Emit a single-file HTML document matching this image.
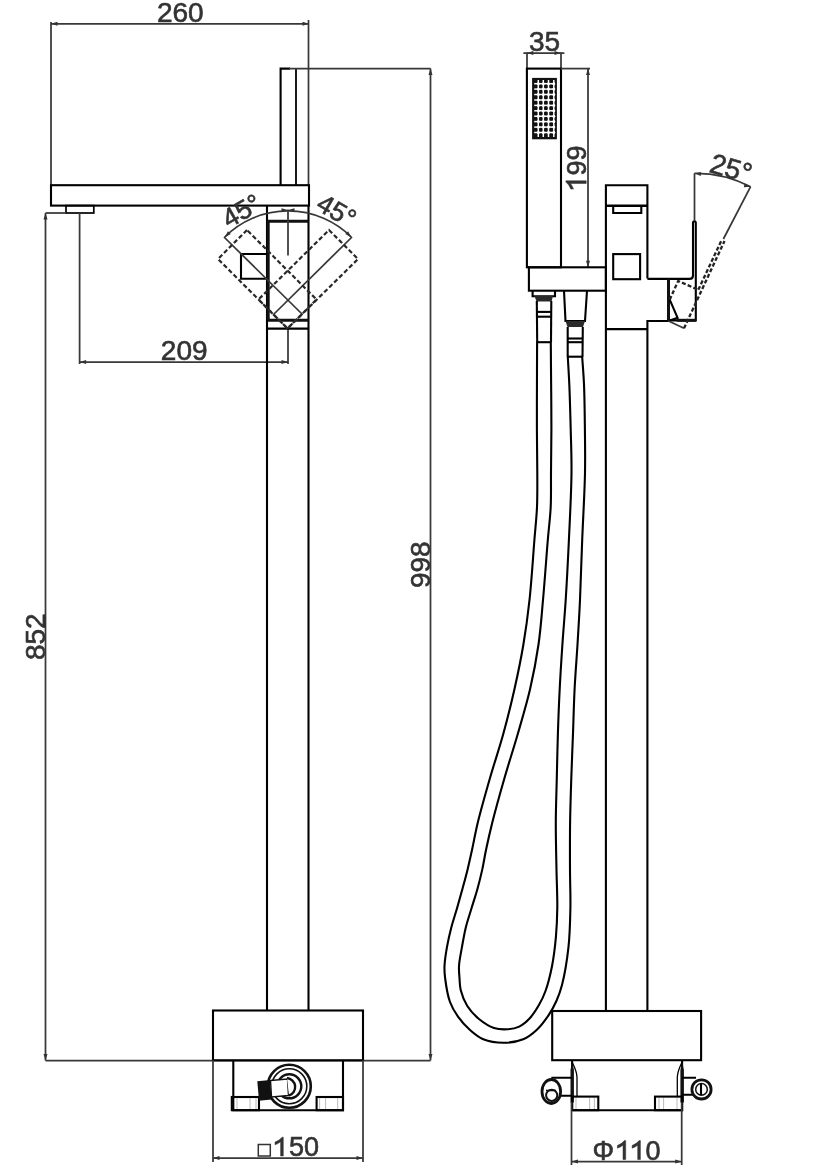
<!DOCTYPE html>
<html>
<head>
<meta charset="utf-8">
<style>
html,body{margin:0;padding:0;background:#fff;}
body{width:826px;height:1169px;overflow:hidden;}
svg{display:block;will-change:transform;}
text{font-family:"Liberation Sans",sans-serif;font-size:28px;fill:#333;stroke:#333;stroke-width:0.6;}
.o{stroke:#000;stroke-width:2.1;fill:none;}
.ot{stroke:#111;stroke-width:3;fill:none;}
.d{stroke:#383838;stroke-width:1.75;fill:none;}
.ds{stroke:#2a2a2a;stroke-width:2.2;fill:none;stroke-dasharray:4.5 2.5;}
.ar{fill:#333;stroke:none;}
.one{fill:#333;stroke:#333;stroke-width:0.5;}
.lg{stroke:#bbb;stroke-width:1;fill:none;}
</style>
</head>
<body>
<svg width="826" height="1169" viewBox="0 0 826 1169">
<rect x="0" y="0" width="826" height="1169" fill="#fff"/>

<!-- ================= LEFT VIEW ================= -->
<g id="left">
  <!-- 260 dimension -->
  <line class="d" x1="51" y1="23.8" x2="309" y2="23.8"/>
  <line class="d" x1="51" y1="22" x2="51" y2="185"/>
  <line class="d" x1="308.5" y1="20" x2="308.5" y2="185"/>
  <path class="ar" d="M51.00 23.80 L57.50 21.80 L57.50 25.80 Z"/>
  <path class="ar" d="M309.00 23.80 L302.50 25.80 L302.50 21.80 Z"/>
  <text x="180.3" y="22.4" text-anchor="middle">260</text>

  <!-- handle top -->
  <path class="o" d="M290 68.6 H280.6 V185"/><line class="o" style="stroke-width:1.8" x1="296" y1="68.6" x2="296" y2="185"/>
  <line class="d" x1="289" y1="68.6" x2="430.5" y2="68.6"/>

  <!-- spout -->
  <rect class="o" x="51" y="185.2" width="258" height="20.4"/>
  <!-- aerator -->
  <rect class="o" style="stroke-width:1.7" x="66" y="205.6" width="27.8" height="7.4"/>

  <!-- 852 dimension -->
  <line class="d" x1="45.5" y1="213" x2="66" y2="213"/>
  <line class="d" x1="45.5" y1="213" x2="45.5" y2="1060.5"/>
  <path class="ar" d="M45.50 213.00 L47.50 219.50 L43.50 219.50 Z"/>
  <path class="ar" d="M45.50 1060.50 L43.50 1054.00 L47.50 1054.00 Z"/>
  <line class="d" x1="45.5" y1="1060.5" x2="430.5" y2="1060.5"/>
  <text transform="translate(45,636.7) rotate(-90)" text-anchor="middle">852</text>

  <!-- 209 dimension -->
  <line class="d" x1="79.6" y1="213" x2="79.6" y2="364"/>
  <line class="d" x1="288" y1="328" x2="288" y2="364"/>
  <line class="d" x1="79.6" y1="362" x2="288" y2="362"/>
  <path class="ar" d="M79.60 362.00 L86.10 360.00 L86.10 364.00 Z"/>
  <path class="ar" d="M288.00 362.00 L281.50 364.00 L281.50 360.00 Z"/>
  <text x="184.2" y="360" text-anchor="middle">209</text>

  <!-- 998 dimension -->
  <line class="d" x1="430.5" y1="68.6" x2="430.5" y2="1060.5"/>
  <path class="ar" d="M430.50 68.60 L432.50 75.10 L428.50 75.10 Z"/>
  <path class="ar" d="M430.50 1060.50 L428.50 1054.00 L432.50 1054.00 Z"/>
  <text transform="translate(430,564.7) rotate(-90)" text-anchor="middle">998</text>

  <!-- column -->
  <line class="o" x1="267" y1="205.6" x2="267" y2="1010.5"/>
  <line class="o" x1="308.5" y1="205.6" x2="308.5" y2="1010.5"/>
  <line class="ot" x1="268" y1="221.3" x2="308.5" y2="221.3"/>
  <line class="ot" x1="268" y1="320.2" x2="308.5" y2="320.2"/>
  <line class="ot" x1="268.2" y1="221.3" x2="268.2" y2="320.2"/>
  <line class="o" x1="267" y1="328.6" x2="308.5" y2="328.6"/>
  <line class="d" x1="288" y1="209.5" x2="288" y2="255.6"/>
  <!-- small square -->
  <path class="o" d="M267 254 H241 V278.8 H267"/>

  <!-- 45 deg arc -->
  <path class="d" style="stroke-width:1.7" d="M224.7 237.2 A89.5 89.5 0 0 1 351.3 237.2"/>
  <path class="ar" d="M224.70 237.20 L227.88 231.19 L230.71 234.02 Z"/>
  <path class="ar" d="M351.30 237.20 L345.29 234.02 L348.12 231.19 Z"/>
  <path class="ar" d="M288.00 209.90 L281.59 212.16 L281.43 208.16 Z"/>
  <path class="ar" d="M288.00 209.90 L294.57 208.16 L294.41 212.16 Z"/>
  <line class="d" x1="224" y1="237" x2="302" y2="314"/>
  <line class="d" x1="352" y1="237" x2="274" y2="314"/>
  <path class="ds" d="M247 230 L218 259 L287.5 328.5 L316.5 299.5 Z"/>
  <path class="ds" d="M329 230 L358 259 L287.5 328.5 L258.5 299.5 Z"/>
  <text style="font-size:26.5px" transform="translate(246,218.7) rotate(-30)" text-anchor="middle">45°</text>
  <text style="font-size:26.5px" transform="translate(332,218.7) rotate(30)" text-anchor="middle">45°</text>

  <!-- base -->
  <rect class="o" x="213" y="1010.5" width="150" height="49.8"/>
  <path class="o" d="M233.3 1060.3 V1110.2 H343 V1060.3"/>
  <!-- feet -->
  <rect class="o" x="231.8" y="1097" width="27.2" height="13.2"/>
  <rect class="o" x="316.6" y="1097" width="26.4" height="13.2"/>
  <line class="lg" x1="237" y1="1098" x2="237" y2="1109"/>
  <line class="lg" x1="250" y1="1098" x2="250" y2="1109"/>
  <line class="lg" x1="256" y1="1098" x2="256" y2="1109"/>
  <line class="lg" x1="319.6" y1="1098" x2="319.6" y2="1109"/>
  <line class="lg" x1="325.6" y1="1098" x2="325.6" y2="1109"/>
  <line class="lg" x1="337.7" y1="1098" x2="337.7" y2="1109"/>
  <!-- valve -->
  <circle cx="289.3" cy="1086.3" r="21.5" fill="#fff" stroke="#111" stroke-width="2.6"/>
  <circle cx="289.3" cy="1086.3" r="17.5" fill="none" stroke="#111" stroke-width="1.6"/>
  <circle cx="289.3" cy="1086.3" r="12" fill="none" stroke="#111" stroke-width="2.4"/>
  <path d="M257.3 1081.2 L270.2 1080 L271.5 1099.5 L259 1100.8 Z" fill="#111"/>
  <path d="M270.5 1080.5 L287.5 1079 L288.5 1095.5 L271.5 1097 Z" fill="#fff" stroke="#111" stroke-width="1.4"/>
  <path d="M287 1078 A9 9 0 0 1 289 1095.5" fill="#fff" stroke="#111" stroke-width="2.4"/>

  <!-- 150 dimension -->
  <line class="d" x1="213" y1="1060.3" x2="213" y2="1162"/>
  <line class="d" x1="363" y1="1060.3" x2="363" y2="1162"/>
  <line class="d" x1="213" y1="1158" x2="363" y2="1158"/>
  <path class="ar" d="M213.00 1158.00 L219.50 1156.00 L219.50 1160.00 Z"/>
  <path class="ar" d="M363.00 1158.00 L356.50 1160.00 L356.50 1156.00 Z"/>
  <rect x="258.3" y="1144.5" width="12" height="11.5" fill="none" stroke="#333" stroke-width="1.5"/>
  <path class="one" d="M282.1 1137.2 H283.3 V1156.0 H280.6 V1141.8 Q278.1 1143.8 275.0 1144.8 V1142.1 Q279.6 1140.4 282.1 1137.2 Z"/>
  <text style="font-size:27px" x="289" y="1156">50</text>
</g>

<!-- ================= RIGHT VIEW ================= -->
<g id="right">
  <!-- 35 dimension -->
  <line class="d" x1="523.4" y1="53" x2="564.4" y2="53"/>
  <line class="d" x1="527" y1="52.5" x2="527" y2="68.6"/>
  <line class="d" x1="561" y1="52.5" x2="561" y2="68.6"/>
  <path class="ar" d="M526.90 53.00 L533.40 51.00 L533.40 55.00 Z"/>
  <path class="ar" d="M561.00 53.00 L554.50 55.00 L554.50 51.00 Z"/>
  <text x="544.5" y="51.2" text-anchor="middle">35</text>

  <!-- hand shower -->
  <rect class="o" x="526.9" y="68.6" width="34.1" height="198.7"/>
  <rect x="532.1" y="77.9" width="24.8" height="61.4" fill="#111"/>
  <g stroke="#fff" stroke-width="1.5">
    <line x1="538.3" y1="80" x2="538.3" y2="137"/>
    <line x1="543.3" y1="80" x2="543.3" y2="137"/>
    <line x1="548.5" y1="80" x2="548.5" y2="137"/>
    <line x1="553.8" y1="80" x2="553.8" y2="137"/>
    <line x1="534.2" y1="83.7" x2="555" y2="83.7"/>
    <line x1="534.2" y1="89.1" x2="555" y2="89.1"/>
    <line x1="534.2" y1="94.5" x2="555" y2="94.5"/>
    <line x1="534.2" y1="100.0" x2="555" y2="100.0"/>
    <line x1="534.2" y1="105.4" x2="555" y2="105.4"/>
    <line x1="534.2" y1="110.8" x2="555" y2="110.8"/>
    <line x1="534.2" y1="116.2" x2="555" y2="116.2"/>
    <line x1="534.2" y1="121.6" x2="555" y2="121.6"/>
    <line x1="534.2" y1="127.1" x2="555" y2="127.1"/>
    <line x1="534.2" y1="132.5" x2="555" y2="132.5"/>
  </g>
  <g fill="#fff">
<circle cx="538.3" cy="83.7" r="1.5"/><circle cx="538.3" cy="89.1" r="1.5"/><circle cx="538.3" cy="94.5" r="1.5"/><circle cx="538.3" cy="100.0" r="1.5"/><circle cx="538.3" cy="105.4" r="1.5"/><circle cx="538.3" cy="110.8" r="1.5"/><circle cx="538.3" cy="116.2" r="1.5"/><circle cx="538.3" cy="121.6" r="1.5"/><circle cx="538.3" cy="127.1" r="1.5"/><circle cx="538.3" cy="132.5" r="1.5"/><circle cx="543.3" cy="83.7" r="1.5"/><circle cx="543.3" cy="89.1" r="1.5"/><circle cx="543.3" cy="94.5" r="1.5"/><circle cx="543.3" cy="100.0" r="1.5"/><circle cx="543.3" cy="105.4" r="1.5"/><circle cx="543.3" cy="110.8" r="1.5"/><circle cx="543.3" cy="116.2" r="1.5"/><circle cx="543.3" cy="121.6" r="1.5"/><circle cx="543.3" cy="127.1" r="1.5"/><circle cx="543.3" cy="132.5" r="1.5"/><circle cx="548.5" cy="83.7" r="1.5"/><circle cx="548.5" cy="89.1" r="1.5"/><circle cx="548.5" cy="94.5" r="1.5"/><circle cx="548.5" cy="100.0" r="1.5"/><circle cx="548.5" cy="105.4" r="1.5"/><circle cx="548.5" cy="110.8" r="1.5"/><circle cx="548.5" cy="116.2" r="1.5"/><circle cx="548.5" cy="121.6" r="1.5"/><circle cx="548.5" cy="127.1" r="1.5"/><circle cx="548.5" cy="132.5" r="1.5"/><circle cx="553.8" cy="83.7" r="1.5"/><circle cx="553.8" cy="89.1" r="1.5"/><circle cx="553.8" cy="94.5" r="1.5"/><circle cx="553.8" cy="100.0" r="1.5"/><circle cx="553.8" cy="105.4" r="1.5"/><circle cx="553.8" cy="110.8" r="1.5"/><circle cx="553.8" cy="116.2" r="1.5"/><circle cx="553.8" cy="121.6" r="1.5"/><circle cx="553.8" cy="127.1" r="1.5"/><circle cx="553.8" cy="132.5" r="1.5"/>
  </g>

  <!-- 199 dimension -->
  <line class="d" x1="561" y1="68.6" x2="590" y2="68.6"/>
  <line class="d" x1="588" y1="68.6" x2="588" y2="267.3"/>
  <path class="ar" d="M588.00 68.60 L590.00 75.10 L586.00 75.10 Z"/>
  <path class="ar" d="M588.00 267.30 L586.00 260.80 L590.00 260.80 Z"/>
  <g transform="translate(586.2,167.2) rotate(-90)"><path class="one" d="M-14.8 -20.3 H-13.6 V0.0 H-16.3 V-15.7 Q-18.8 -13.7 -21.9 -12.7 V-15.4 Q-17.3 -17.1 -14.8 -20.3 Z"/><text style="font-size:27px" x="-8.4" y="0">99</text></g>

  <!-- holder -->
  <rect class="o" x="528.9" y="267.3" width="77" height="23.4"/>

  <!-- left connector -->
  <path class="o" d="M532.6 290.7 V296.2 H555 V290.7"/>
  <path d="M534.5 296 H553 L551.5 301.5 H536.5 Z" fill="#2a2a2a"/>
  <line class="o" x1="536.8" y1="301" x2="537.2" y2="342"/>
  <line class="o" x1="551.3" y1="301" x2="551" y2="342"/>
  <line class="o" x1="536.8" y1="311.9" x2="551.3" y2="311.9"/>
  <line class="o" x1="536.8" y1="316.7" x2="551.3" y2="316.7"/>
  <line class="o" x1="536.8" y1="342.2" x2="551.3" y2="342.2"/>

  <!-- right connector -->
  <path class="o" d="M564 290.7 L565.5 321 H585 L587 290.7"/>
  <path d="M565.5 321 H585 L583 327 H567.5 Z" fill="#2a2a2a"/>
  <line class="o" x1="567.7" y1="327" x2="567.7" y2="357"/>
  <line class="o" x1="582.8" y1="327" x2="582.5" y2="357"/>
  <line class="o" x1="567.7" y1="338.5" x2="582.8" y2="338.5"/>
  <line class="o" x1="567.7" y1="342.2" x2="582.8" y2="342.2"/>
  <line class="o" x1="567.7" y1="356.7" x2="582.8" y2="356.7"/>

  <!-- column -->
  <path class="o" d="M605.9 1011 V185.3 H647.4 V278.6"/>
  <line class="o" style="stroke-width:2.4" x1="605.9" y1="205.7" x2="647.4" y2="205.7"/>
  <path class="o" d="M613.2 205.7 V213 H641.3 V205.7"/>
  <rect class="o" x="613.2" y="254.1" width="26.9" height="25.1"/>
  <line class="o" x1="605.9" y1="329.1" x2="647.4" y2="329.1"/>
  <path class="o" d="M647.4 1011 V321 H668.5"/>

  <!-- handle -->
  <path class="o" d="M647.4 278.9 H689.5 Q693 278.9 693 275.4 V223 Q693 221.2 694.4 221.2 Q695.8 221.2 695.8 223 V320.4 H668.5 V278.9"/>
  <line class="ot" x1="677" y1="320.3" x2="696" y2="320.3"/>
  <line class="ot" x1="668.5" y1="279" x2="668.5" y2="321"/>
  <path class="o" d="M669.7 299.7 L677.6 317.8 L668.5 321"/>
  <path class="d" d="M668.5 321 L684 328.3"/>
  <path class="ds" style="stroke-width:2.3;stroke-dasharray:4 2.2;stroke:#222" d="M669.7 299.7 L678.2 280.9 L698.3 289.8"/>
  <path class="ds" style="stroke-width:2.3;stroke-dasharray:4 2.2;stroke:#222" d="M684 328.3 L724.5 241"/>
  <path class="ds" style="stroke-width:2.3;stroke-dasharray:4 2.2;stroke:#222" d="M698.3 289.8 L721.8 239.7"/>

  <!-- 25 deg -->
  <line class="d" x1="694.5" y1="173.3" x2="694.5" y2="221.2"/>
  <path class="d" d="M694.5 173.3 A120 120 0 0 1 750.6 186.7"/>
  <line class="d" x1="750.6" y1="186.7" x2="723.4" y2="239"/>
  <path class="ar" d="M694.50 173.30 L701.17 172.01 L700.73 175.99 Z"/>
  <path class="ar" d="M750.60 186.70 L743.82 187.22 L744.70 183.32 Z"/>
  <text transform="translate(728.5,177.5) rotate(16)" text-anchor="middle">25°</text>

  <!-- hose -->
  <path class="o hose" d="M537.10 342.00 C537.07 351.00 537.03 358.23 537.00 369.00 C536.96 385.06 536.83 410.55 536.90 429.00 C536.96 444.80 537.30 459.28 537.30 473.00 C537.30 485.06 537.49 495.76 537.00 507.00 C536.51 518.09 535.41 527.37 534.40 540.00 C533.03 557.03 531.52 581.52 529.50 600.00 C527.76 615.97 525.89 629.70 523.40 644.50 C520.90 659.37 517.82 674.21 514.50 689.00 C511.16 703.87 507.47 718.72 503.40 733.50 C499.31 748.38 494.27 763.14 490.00 778.00 C485.74 792.81 480.97 809.40 477.80 822.50 C475.32 832.72 473.83 841.64 472.00 850.00 C470.46 857.04 469.18 862.96 467.60 869.40 C466.02 875.86 464.25 882.27 462.50 888.70 C460.75 895.14 458.96 901.56 457.10 908.00 C455.23 914.49 452.99 920.98 451.30 927.50 C449.63 933.95 448.14 940.43 447.00 946.90 C445.88 953.27 444.73 960.36 444.50 966.00 C444.32 970.45 444.51 973.34 445.10 978.00 C445.94 984.65 447.49 995.15 450.00 1002.00 C452.07 1007.65 454.75 1012.01 458.00 1016.60 C461.37 1021.37 465.66 1026.15 470.00 1030.00 C474.12 1033.66 478.15 1037.17 483.30 1039.30 C489.06 1041.68 496.64 1042.80 503.30 1042.80 C509.94 1042.80 517.44 1041.67 523.20 1039.30 C528.37 1037.17 532.51 1033.80 536.60 1030.00 C541.00 1025.91 545.11 1020.35 548.50 1015.30 C551.68 1010.56 554.25 1005.75 556.50 1000.70 C558.75 995.65 560.33 991.46 562.00 985.00 C564.55 975.15 567.10 959.71 568.50 946.90 C569.91 934.04 570.15 920.89 570.40 908.00 C570.64 895.26 570.06 883.37 570.00 870.00 C569.94 855.05 569.87 838.07 570.10 822.50 C570.32 807.42 570.82 792.83 571.30 778.00 C571.78 763.17 572.45 748.33 573.00 733.50 C573.55 718.67 573.85 703.83 574.60 689.00 C575.35 674.16 576.60 659.34 577.50 644.50 C578.40 629.67 579.26 615.94 580.00 600.00 C580.86 581.50 581.39 560.55 582.20 540.00 C583.05 518.28 584.61 493.00 585.00 473.00 C585.32 456.80 585.07 443.72 584.90 429.00 C584.73 414.18 584.56 397.46 584.00 384.40 C583.56 374.15 582.80 366.13 582.20 357.00"/>
  <path class="o hose" d="M550.80 342.00 C550.87 351.00 550.92 358.23 551.00 369.00 C551.11 385.06 551.42 410.55 551.40 429.00 C551.38 444.80 551.12 459.28 551.00 473.00 C550.89 485.06 551.24 495.76 550.70 507.00 C550.16 518.09 548.86 527.37 547.80 540.00 C546.37 557.03 544.68 581.50 543.00 600.00 C541.56 615.95 540.64 629.71 538.50 644.50 C536.35 659.38 533.51 674.24 530.10 689.00 C526.66 703.90 522.16 718.69 517.90 733.50 C513.63 748.36 508.77 763.14 504.50 778.00 C500.24 792.81 495.59 809.41 492.30 822.50 C489.73 832.73 487.76 841.62 486.00 850.00 C484.53 857.01 483.71 862.96 482.30 869.40 C480.88 875.86 479.28 882.29 477.50 888.70 C475.71 895.16 473.55 901.55 471.60 908.00 C469.65 914.48 467.41 920.97 465.80 927.50 C464.22 933.94 463.14 940.45 462.00 946.90 C460.87 953.28 459.32 960.36 459.00 966.00 C458.75 970.45 459.22 974.00 459.50 978.00 C459.78 982.00 459.65 985.79 460.70 990.00 C461.96 995.04 464.24 1001.15 467.30 1006.00 C470.41 1010.93 474.79 1015.61 479.30 1019.30 C483.71 1022.91 489.04 1026.38 494.00 1028.00 C498.39 1029.43 503.01 1029.57 507.30 1029.30 C511.40 1029.04 515.52 1028.37 519.20 1026.60 C523.12 1024.72 526.77 1021.47 530.00 1018.00 C533.50 1014.24 536.58 1009.20 539.20 1004.60 C541.71 1000.19 543.59 996.31 545.50 991.00 C548.00 984.06 550.29 974.84 552.00 966.20 C553.82 956.96 555.02 946.90 555.90 937.20 C556.78 927.50 557.16 918.38 557.30 908.00 C557.46 896.17 556.74 883.37 556.50 870.00 C556.23 855.05 555.74 838.07 555.80 822.50 C555.86 807.42 556.45 792.83 556.80 778.00 C557.15 763.17 557.42 748.33 557.90 733.50 C558.38 718.66 558.95 703.83 559.70 689.00 C560.45 674.16 561.40 659.33 562.40 644.50 C563.40 629.66 564.68 615.95 565.70 600.00 C566.88 581.50 567.95 560.56 568.90 540.00 C569.90 518.29 571.29 493.00 571.50 473.00 C571.67 456.80 571.06 443.72 570.70 429.00 C570.33 414.18 569.86 397.46 569.30 384.40 C568.86 374.16 568.30 366.13 567.80 357.00"/>

  <!-- base -->
  <rect class="o" x="552.2" y="1011" width="148.9" height="49.2"/>
  <path class="o" d="M572.1 1060.2 V1110.2 H682.1 V1060.2"/>
  <path d="M570.5 1102.5 L570.5 1070 L572.1 1062 L573.9 1070 L573.9 1102.5 Z" fill="#111"/>
  <path d="M680.4 1102.5 L680.4 1070 L682.1 1062 L683.9 1070 L683.9 1102.5 Z" fill="#111"/>
  <path class="o" style="stroke-width:1.3" d="M572.1 1062 Q577 1072 577 1077.3 V1097"/>
  <path class="o" style="stroke-width:1.3" d="M682.1 1062 Q677.3 1072 677.3 1077.3 V1097"/>
  <rect class="o" x="572.1" y="1096.6" width="26.2" height="13.6"/>
  <rect class="o" x="655" y="1096.6" width="27.1" height="13.6"/>
  <line class="lg" x1="576" y1="1098" x2="576" y2="1109"/>
  <line class="lg" x1="589.6" y1="1098" x2="589.6" y2="1109"/>
  <line class="lg" x1="594.4" y1="1098" x2="594.4" y2="1109"/>
  <line class="lg" x1="659" y1="1098" x2="659" y2="1109"/>
  <line class="lg" x1="663.6" y1="1098" x2="663.6" y2="1109"/>
  <line class="lg" x1="677" y1="1098" x2="677" y2="1109"/>
  <!-- knobs -->
  <path class="o" d="M551.3 1077.8 H572.1 M555 1095.7 H572.1"/>
  <ellipse cx="551.3" cy="1091.5" rx="9.3" ry="12" fill="#fff" stroke="#111" stroke-width="2.8"/>
  <circle cx="551.7" cy="1095.3" r="5.6" fill="none" stroke="#111" stroke-width="2"/>
  <path d="M546 1090.5 H556" stroke="#111" stroke-width="1.6"/>
  <path class="o" d="M682.1 1077.8 H696 M682.1 1094.7 H693"/>
  <circle cx="701.5" cy="1089.4" r="9.6" fill="#fff" stroke="#111" stroke-width="2.8"/>
  <circle cx="701.5" cy="1089.4" r="5.8" fill="none" stroke="#111" stroke-width="1.5"/>
  <line class="o" x1="701" y1="1084" x2="701" y2="1095"/>

  <!-- 110 dimension -->
  <line class="d" x1="571.5" y1="1102" x2="571.5" y2="1165"/>
  <line class="d" x1="681.7" y1="1102" x2="681.7" y2="1165"/>
  <line class="d" x1="571.5" y1="1161.5" x2="681.7" y2="1161.5"/>
  <path class="ar" d="M571.50 1161.50 L578.00 1159.50 L578.00 1163.50 Z"/>
  <path class="ar" d="M681.70 1161.50 L675.20 1163.50 L675.20 1159.50 Z"/>
  <text style="font-size:27px" x="592.5" y="1159.5">Φ</text>
  <path class="one" d="M624.5 1140.6 H625.7 V1159.5 H623.0 V1145.2 Q620.5 1147.2 617.4 1148.2 V1145.5 Q622.0 1143.8 624.5 1140.6 Z"/>
  <path class="one" d="M639.2 1140.6 H640.4 V1159.5 H637.7 V1145.2 Q635.2 1147.2 632.1 1148.2 V1145.5 Q636.7 1143.8 639.2 1140.6 Z"/>
  <text style="font-size:27px" x="645.5" y="1159.5">0</text>
</g>

</svg>
</body>
</html>
